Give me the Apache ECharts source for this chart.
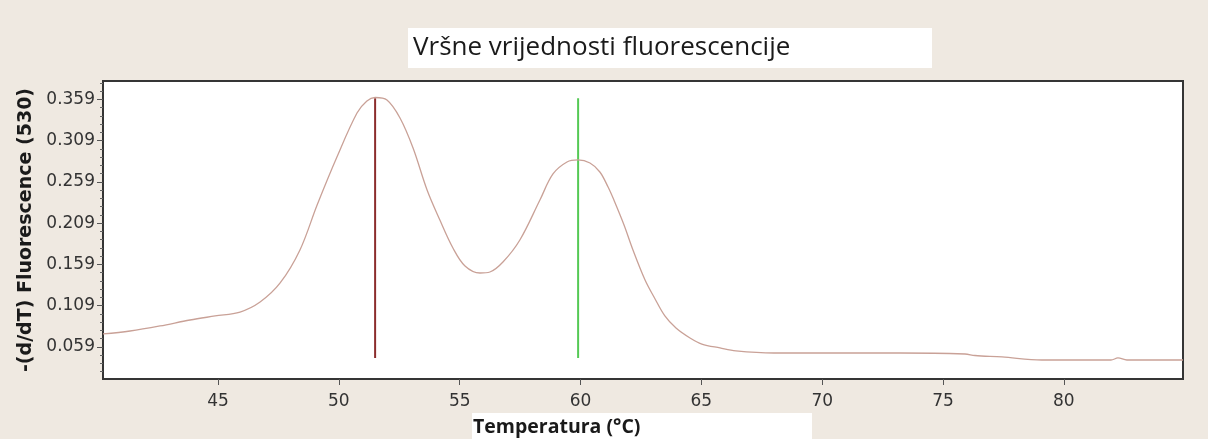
<!DOCTYPE html>
<html>
<head>
<meta charset="utf-8">
<script src="https://cdn.jsdelivr.net/npm/echarts@6/dist/echarts.min.js"></script>
<style>
html, body { margin: 0; padding: 0; background: #efe9e1; }
#main { width: 1208px; height: 439px; }
</style>
</head>
<body>
<div id="main"></div>
<script>
// krivulja taljenja, očitano sa slike
var temps = [40.24, 41.36, 42.60, 43.84, 44.88, 45.91, 46.74, 47.57, 48.39, 49.10,
  49.92, 50.75, 51.16, 51.50, 51.99, 52.53, 53.07, 53.65, 54.18, 54.72,
  55.22, 55.84, 56.25, 56.79, 57.49, 58.32, 58.86, 59.44, 59.89, 60.39,
  60.80, 61.14, 61.38, 61.80, 62.17, 62.67, 63.04, 63.49, 63.95, 64.53,
  65.02, 65.77, 66.43, 68.00, 73.22, 75.91, 76.32, 77.44, 79.09, 81.95,
  82.24, 82.61, 84.93];
var fluo = [0.0748, 0.0784, 0.0845, 0.0917, 0.0966, 0.1014, 0.1135, 0.1366, 0.1766, 0.2311,
  0.2893, 0.3426, 0.3572, 0.3614, 0.3584, 0.3366, 0.3002, 0.2493, 0.2129, 0.1790,
  0.1572, 0.1487, 0.1499, 0.1620, 0.1887, 0.2372, 0.2687, 0.2832, 0.2857, 0.2820,
  0.2711, 0.2529, 0.2372, 0.2069, 0.1766, 0.1402, 0.1196, 0.0966, 0.0820, 0.0699,
  0.0626, 0.0578, 0.0542, 0.0517, 0.0517, 0.0505, 0.0487, 0.0469, 0.0432, 0.0432,
  0.0457, 0.0432, 0.0432];

// vrhovi (Tm)
var peakTemps = [51.5, 59.9];
var peakColors = ['#8b2c2c', '#55c955'];
var peakRange = [0.0457, 0.3605];

var xTicks = [45, 50, 55, 60, 65, 70, 75, 80];
var yTicks = [0.059, 0.109, 0.159, 0.209, 0.259, 0.309, 0.359];

var xMin = 40.24, xMax = 84.93;
var yMin = 0.0202, yMax = 0.3814;

var yMinor = [];
for (var v = 0.029; v < yMax; v += 0.01) {
  var r = Math.round(v * 1000) / 1000;
  if (yTicks.indexOf(r) < 0) yMinor.push(r);
}

var chart = echarts.init(document.getElementById('main'));

var series = [{
  type: 'line',
  data: temps.map(function (t, i) { return [t, fluo[i]]; }),
  showSymbol: false,
  smooth: 0.35,
  lineStyle: { color: '#c9a197', width: 1.3 },
  z: 3
}];
peakTemps.forEach(function (t, i) {
  series.push({
    type: 'line',
    data: [[t, peakRange[0]], [t, peakRange[1]]],
    showSymbol: false,
    lineStyle: { color: peakColors[i], width: 2 },
    z: 2
  });
});

var option = {
  animation: false,
  backgroundColor: '#efe9e1',
  grid: {
    left: 103, right: 25, top: 81, bottom: 60,
    show: true,
    backgroundColor: '#ffffff',
    borderColor: '#353535',
    borderWidth: 2
  },
  graphic: [
    { type: 'rect', left: 408, top: 28, shape: { width: 524, height: 40 }, style: { fill: '#ffffff' } },
    { type: 'text', left: 413, top: 35, style: { text: 'Vršne vrijednosti fluorescencije', fill: '#1a1a1a',
      font: '26px "Open Sans"' } },
    { type: 'rect', left: 472, top: 413, shape: { width: 340, height: 26 }, style: { fill: '#ffffff' } },
    { type: 'text', left: 473, top: 417, style: { text: 'Temperatura (°C)', fill: '#1a1a1a',
      font: 'bold 19.5px "Open Sans"' } }
  ],
  xAxis: {
    type: 'value',
    min: xMin, max: xMax,
    axisLine: { show: false },
    splitLine: { show: false },
    axisTick: { show: true, customValues: xTicks, length: 6, lineStyle: { color: '#555' } },
    axisLabel: {
      customValues: xTicks, margin: 14,
      color: '#333', fontFamily: 'DejaVu Sans', fontSize: 17
    }
  },
  yAxis: [{
    type: 'value',
    min: yMin, max: yMax,
    position: 'left',
    name: '-(d/dT) Fluorescence (530)',
    nameLocation: 'middle',
    nameRotate: 90,
    nameGap: 63,
    nameTextStyle: { color: '#1a1a1a', fontFamily: 'DejaVu Sans', fontWeight: 'bold', fontSize: 19 },
    axisLine: { show: false },
    splitLine: { show: false },
    axisTick: { show: true, customValues: yTicks, length: 6, lineStyle: { color: '#555' } },
    axisLabel: {
      customValues: yTicks, margin: 8,
      color: '#333', fontFamily: 'DejaVu Sans', fontSize: 17,
      formatter: function (v) { return v.toFixed(3); }
    }
  }, {
    type: 'value',
    min: yMin, max: yMax,
    position: 'left',
    offset: 0,
    axisLine: { show: false },
    splitLine: { show: false },
    axisTick: { show: true, customValues: yMinor, length: 3, lineStyle: { color: '#666' } },
    axisLabel: { show: false }
  }],
  series: series
};

chart.setOption(option);
</script>
</body>
</html>
